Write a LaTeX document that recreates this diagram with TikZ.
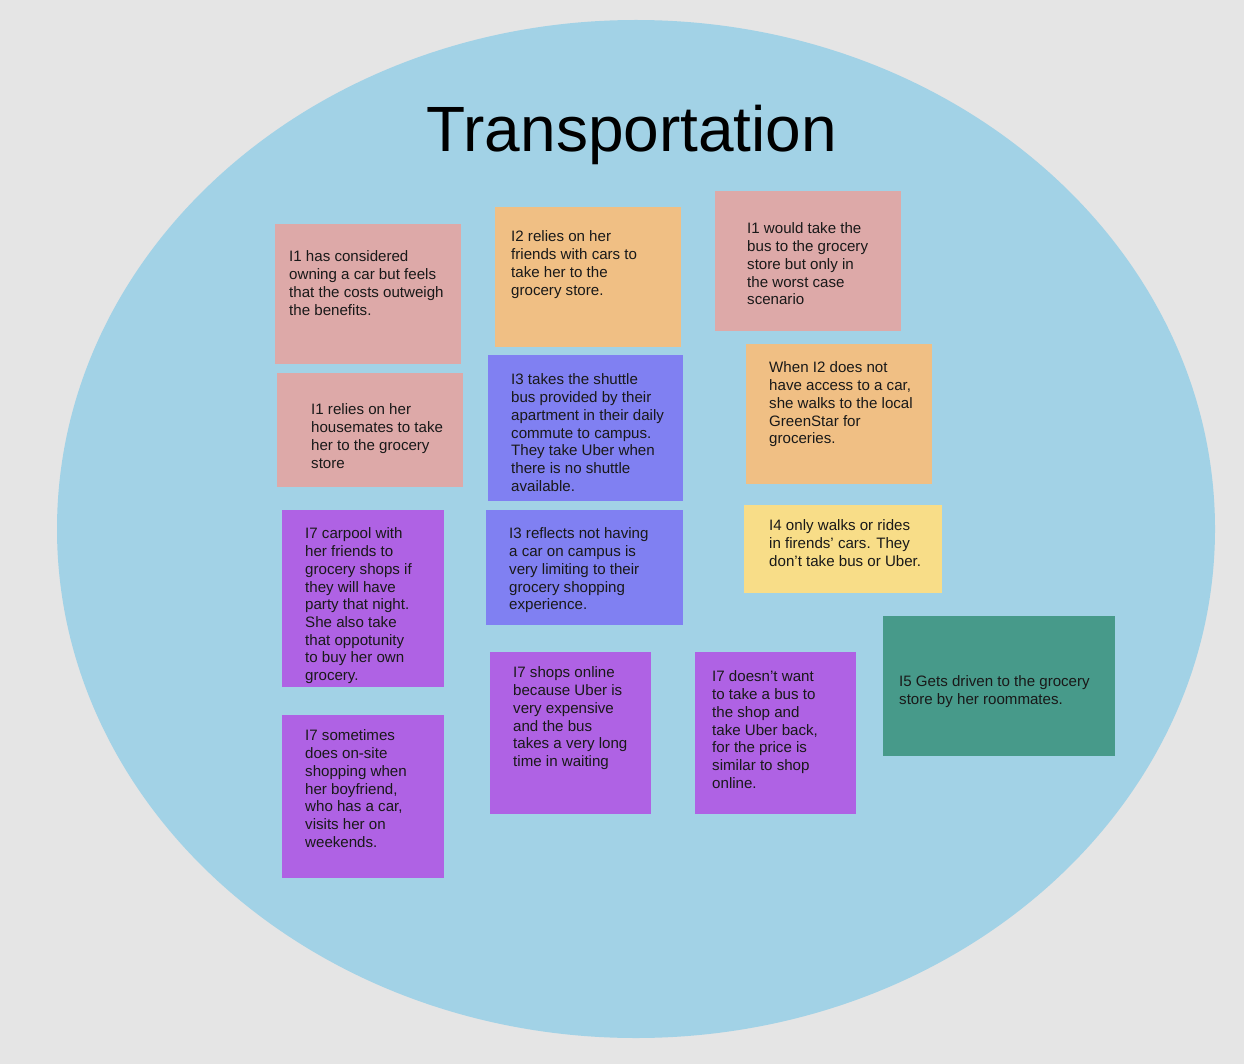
\documentclass[tikz,border=0pt]{standalone}
\usepackage{fontspec}
\setmainfont{Liberation Sans}
\definecolor{bggray}{HTML}{E5E5E5}
\definecolor{ellblue}{HTML}{A2D2E6}
\definecolor{spink}{HTML}{DDA9A8}
\definecolor{sorange}{HTML}{F0BF84}
\definecolor{sblue}{HTML}{8080F2}
\definecolor{spurple}{HTML}{AF62E4}
\definecolor{syellow}{HTML}{F8DD88}
\definecolor{steal}{HTML}{479A8A}
\tikzset{
  stext/.style={anchor=north west, inner sep=0pt, align=left,
    font=\fontsize{15.1}{17.7}\selectfont, text=black!90},
}
\begin{document}
\begin{tikzpicture}[x=1pt,y=-1pt]
\useasboundingbox (0,0) rectangle (1244,1064);
\fill[bggray] (0,0) rectangle (1244,1064);
\fill[ellblue] (636,529) ellipse [x radius=579, y radius=509];
\node[inner sep=0pt, anchor=base, font=\fontsize{64}{72}\selectfont] (title) at (632,152) {Transportation};

% boxes
\path[fill=spink] (275,224) rectangle (461,364) coordinate (b1);
\path[fill=sorange] (495,207) rectangle (681,347) coordinate (b2);
\path[fill=spink] (715,191) rectangle (901,331) coordinate (b3);
\path[fill=spink] (277,373) rectangle (463,487) coordinate (b4);
\path[fill=sblue] (488,355) rectangle (683,501) coordinate (b5);
\path[fill=sorange] (746,344) rectangle (932,484) coordinate (b6);
\path[fill=syellow] (744,505) rectangle (942,593) coordinate (b7);
\path[fill=spurple] (282,510) rectangle (444,687) coordinate (b8);
\path[fill=sblue] (486,510) rectangle (683,625) coordinate (b9);
\path[fill=spurple] (282,715) rectangle (444,878) coordinate (b10);
\path[fill=spurple] (490,652) rectangle (651,814) coordinate (b11);
\path[fill=spurple] (695,652) rectangle (856,814) coordinate (b12);
\path[fill=steal] (883,616) rectangle (1115,756) coordinate (b13);

% texts
\node[stext] (t1) at (289,249.4) {\strut I1 has considered\\owning a car but feels\\that the costs outweigh\\the benefits.};
\node[stext] (t2) at (511,229.4) {\strut I2 relies on her\\friends with cars to\\take her to the\\grocery store.};
\node[stext] (t3) at (747,221.4) {\strut I1 would take the\\bus to the grocery\\store but only in\\the worst case\\scenario};
\node[stext] (t4) at (311,402.4) {\strut I1 relies on her\\housemates to take\\her to the grocery\\store};
\node[stext] (t5) at (511,372.4) {\strut I3 takes the shuttle\\bus provided by their\\apartment in their daily\\commute to campus.\\They take Uber when\\there is no shuttle\\available.};
\node[stext] (t6) at (769,360.4) {\strut When I2 does not\\have access to a car,\\she walks to the local\\GreenStar for\\groceries.};
\node[stext] (t7) at (769,518.4) {\strut I4 only walks or rides\\in firends’ cars. They\\don’t take bus or Uber.};
\node[stext] (t8) at (305,526.4) {\strut I7 carpool with\\her friends to\\grocery shops if\\they will have\\party that night.\\She also take\\that oppotunity\\to buy her own\\grocery.};
\node[stext] (t9) at (509,526.4) {\strut I3 reflects not having\\a car on campus is\\very limiting to their\\grocery shopping\\experience.};
\node[stext] (t10) at (305,728.4) {\strut I7 sometimes\\does on-site\\shopping when\\her boyfriend,\\who has a car,\\visits her on\\weekends.};
\node[stext] (t11) at (513,665.4) {\strut I7 shops online\\because Uber is\\very expensive\\and the bus\\takes a very long\\time in waiting};
\node[stext] (t12) at (712,669.4) {\strut I7 doesn’t want\\to take a bus to\\the shop and\\take Uber back,\\for the price is\\similar to shop\\online.};
\node[stext] (t13) at (899,674.4) {\strut I5 Gets driven to the grocery\\store by her roommates.};
\end{tikzpicture}
\end{document}
